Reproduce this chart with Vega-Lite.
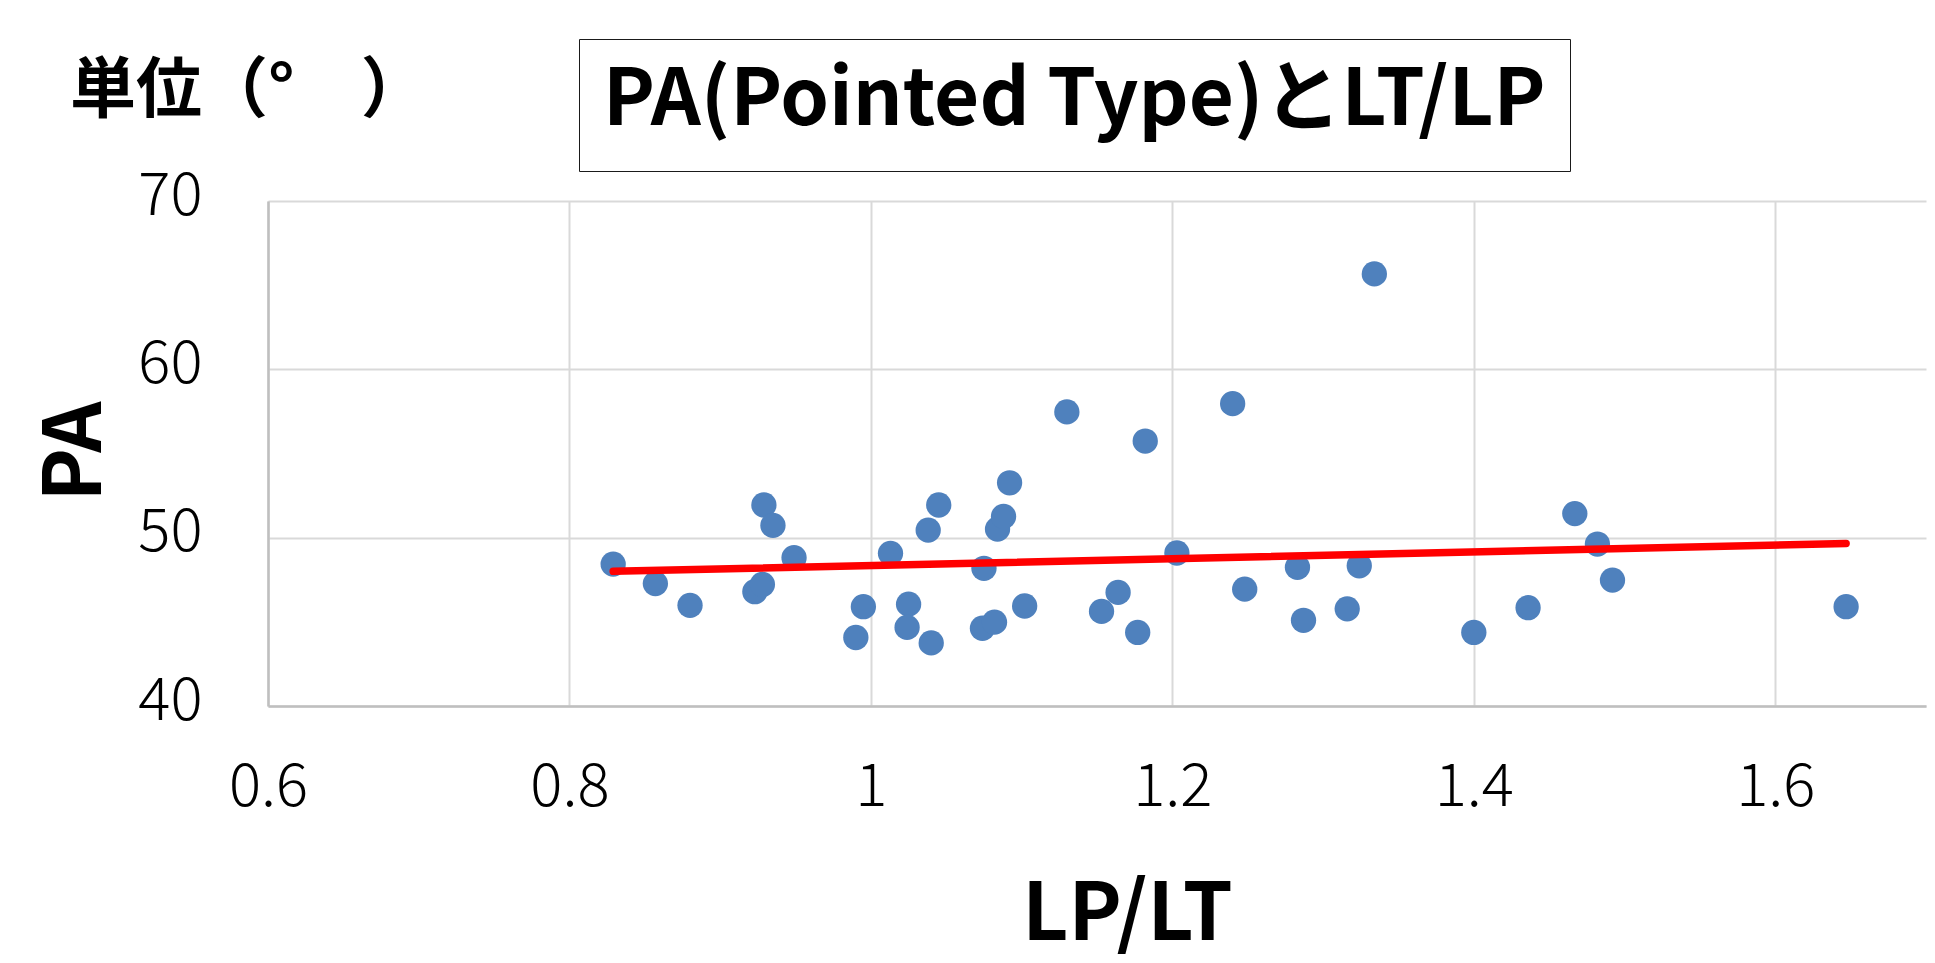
{
  "$schema": "https://vega.github.io/schema/vega-lite/v6.json",
  "width": 1658,
  "height": 505,
  "autosize": {"type": "none"},
  "padding": {"left": 268, "top": 201, "right": 9, "bottom": 257},
  "background": "white",
  "title": {
    "text": "単位（°　）",
    "anchor": "start",
    "frame": "group",
    "orient": "top",
    "font": "Noto Sans CJK JP",
    "fontSize": 66,
    "fontWeight": "bold",
    "color": "black",
    "dx": -198,
    "dy": 139,
    "offset": 0,
    "baseline": "alphabetic"
  },
  "config": {
    "view": {"stroke": null},
    "font": "Noto Sans CJK JP",
    "axis": {
      "grid": true,
      "gridColor": "#D9D9D9",
      "gridWidth": 2,
      "domainColor": "#BFBFBF",
      "domainWidth": 2.5,
      "ticks": false,
      "tickSize": 0,
      "labelFlush": false,
      "labelFont": "Noto Sans CJK JP",
      "labelFontWeight": 300,
      "labelFontSize": 60,
      "labelColor": "black",
      "titleFont": "Noto Sans CJK JP",
      "titleFontSize": 80,
      "titleFontWeight": "bold",
      "titleColor": "black"
    }
  },
  "datasets": {
    "points": [
      {"x": 0.829, "y": 48.43, "series": "PA"},
      {"x": 0.857, "y": 47.27, "series": "PA"},
      {"x": 0.880, "y": 45.98, "series": "PA"},
      {"x": 0.923, "y": 46.79, "series": "PA"},
      {"x": 0.928, "y": 47.22, "series": "PA"},
      {"x": 0.929, "y": 51.94, "series": "PA"},
      {"x": 0.935, "y": 50.73, "series": "PA"},
      {"x": 0.949, "y": 48.81, "series": "PA"},
      {"x": 0.990, "y": 44.07, "series": "PA"},
      {"x": 0.995, "y": 45.90, "series": "PA"},
      {"x": 1.013, "y": 49.07, "series": "PA"},
      {"x": 1.025, "y": 46.05, "series": "PA"},
      {"x": 1.024, "y": 44.67, "series": "PA"},
      {"x": 1.038, "y": 50.45, "series": "PA"},
      {"x": 1.040, "y": 43.75, "series": "PA"},
      {"x": 1.045, "y": 51.94, "series": "PA"},
      {"x": 1.075, "y": 48.18, "series": "PA"},
      {"x": 1.074, "y": 44.62, "series": "PA"},
      {"x": 1.082, "y": 44.98, "series": "PA"},
      {"x": 1.084, "y": 50.51, "series": "PA"},
      {"x": 1.088, "y": 51.26, "series": "PA"},
      {"x": 1.092, "y": 53.26, "series": "PA"},
      {"x": 1.102, "y": 45.94, "series": "PA"},
      {"x": 1.130, "y": 57.47, "series": "PA"},
      {"x": 1.153, "y": 45.62, "series": "PA"},
      {"x": 1.164, "y": 46.75, "series": "PA"},
      {"x": 1.177, "y": 44.37, "series": "PA"},
      {"x": 1.182, "y": 55.74, "series": "PA"},
      {"x": 1.203, "y": 49.09, "series": "PA"},
      {"x": 1.240, "y": 57.96, "series": "PA"},
      {"x": 1.248, "y": 46.94, "series": "PA"},
      {"x": 1.283, "y": 48.24, "series": "PA"},
      {"x": 1.287, "y": 45.09, "series": "PA"},
      {"x": 1.316, "y": 45.77, "series": "PA"},
      {"x": 1.324, "y": 48.33, "series": "PA"},
      {"x": 1.334, "y": 65.67, "series": "PA"},
      {"x": 1.400, "y": 44.37, "series": "PA"},
      {"x": 1.436, "y": 45.84, "series": "PA"},
      {"x": 1.467, "y": 51.43, "series": "PA"},
      {"x": 1.482, "y": 49.62, "series": "PA"},
      {"x": 1.492, "y": 47.48, "series": "PA"},
      {"x": 1.647, "y": 45.90, "series": "PA"}
    ],
    "trend": [
      {"x": 0.829, "y": 48.0},
      {"x": 1.647, "y": 49.66}
    ]
  },
  "encoding": {
    "x": {
      "field": "x",
      "type": "quantitative",
      "scale": {"domain": [0.6, 1.7], "nice": false, "zero": false},
      "axis": {
        "values": [0.6, 0.8, 1.0, 1.2, 1.4, 1.6],
        "format": "~g",
        "labelPadding": 52,
        "title": "LP/LT",
        "titleX": 859,
        "titleY": 170
      }
    },
    "y": {
      "field": "y",
      "type": "quantitative",
      "scale": {"domain": [40, 70], "nice": false, "zero": false},
      "axis": {
        "values": [40, 50, 60, 70],
        "labelPadding": 66,
        "labelOffset": -5,
        "title": "PA",
        "titleX": -151,
        "titleY": 250
      }
    }
  },
  "layer": [
    {
      "data": {"name": "points"},
      "mark": {"type": "circle", "size": 640, "opacity": 1},
      "encoding": {
        "color": {
          "field": "series",
          "type": "nominal",
          "scale": {"range": ["#4F81BD"]},
          "legend": {
            "title": "PA(Pointed Type)とLT/LP",
            "orient": "none",
            "legendX": 311,
            "legendY": -162,
            "titleFont": "Noto Sans CJK JP",
            "titleFontSize": 78,
            "titleFontWeight": "bold",
            "titleColor": "black",
            "titleLimit": 3000,
            "titlePadding": 5,
            "padding": 24,
            "strokeColor": "#1a1a1a",
            "symbolSize": 0,
            "symbolOpacity": 0,
            "symbolStrokeWidth": 0,
            "labelExpr": "''",
            "labelFontSize": 1,
            "labelOpacity": 0
          }
        }
      }
    },
    {
      "data": {"name": "trend"},
      "mark": {"type": "line", "color": "#FF0000", "strokeWidth": 7.5, "strokeCap": "round"},
      "encoding": {}
    }
  ]
}
